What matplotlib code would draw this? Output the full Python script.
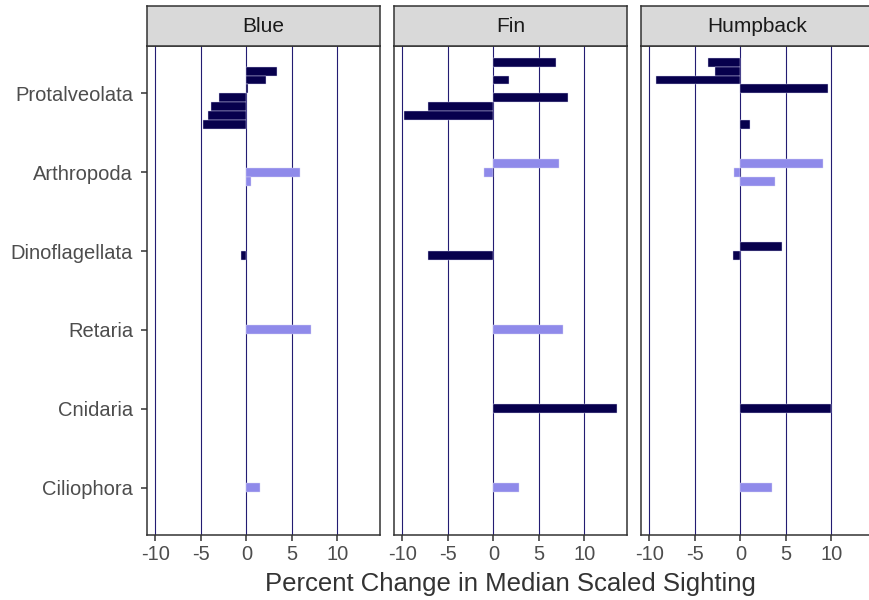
import numpy as np
import matplotlib
matplotlib.use("Agg")
import matplotlib.pyplot as plt

plt.rcParams['font.family'] = ['Liberation Sans', 'DejaVu Sans']

# categories top -> bottom, with number of dodge slots per category
categories = ['Protalveolata', 'Arthropoda', 'Dinoflagellata', 'Retaria', 'Cnidaria', 'Ciliophora']
n_slots = [8, 3, 2, 1, 1, 1]
cat_colors = ['#07004d', '#8f8aea', '#07004d', '#8f8aea', '#07004d', '#8f8aea']
facets = ['Blue', 'Fin', 'Humpback']

nan = np.nan
# values per facet, per category, slots listed top -> bottom
blue = [
    [nan, 3.4, 2.2, 0.15, -3.0, -3.9, -4.2, -4.8],
    [nan, 5.85, 0.55],
    [nan, -0.6],
    [7.1],
    [nan],
    [1.45],
]
fin = [
    [6.9, nan, 1.7, nan, 8.25, -7.15, -9.8, nan],
    [7.2, -1.0, nan],
    [nan, -7.2],
    [7.7],
    [13.55],
    [2.85],
]
humpback = [
    [-3.55, -2.75, -9.3, 9.65, nan, nan, nan, 1.1],
    [9.05, -0.65, 3.85],
    [4.55, -0.85],
    [nan],
    [9.95],
    [3.5],
]
values = {'Blue': blue, 'Fin': fin, 'Humpback': humpback}
xticks = [-10, -5, 0, 5, 10]

W, H = 869, 600
fig = plt.figure(figsize=(W / 100, H / 100), dpi=100)

panel_left = [147, 394, 641]
panel_w = 233
panel_top, panel_bot = 46, 535
strip_top = 6

bar_w = 0.9 / max(n_slots)
ncat = len(categories)
ypos = {c: ncat - i for i, c in enumerate(categories)}

for k, name in enumerate(facets):
    x0 = panel_left[k]
    ax = fig.add_axes([x0 / W, (H - panel_bot) / H, panel_w / W, (panel_bot - panel_top) / H])
    for i, cat in enumerate(categories):
        vals = values[name][i]
        n = len(vals)
        for j, v in enumerate(vals):
            if np.isnan(v):
                continue
            y = ypos[cat] + ((n - 1) / 2 - j) * bar_w
            ax.barh(y, v, height=bar_w, color=cat_colors[i],
                    edgecolor='#d8d6f4', linewidth=0.3, zorder=3)
    ax.set_xlim(-10.93, 14.7)
    ax.set_ylim(0.4, ncat + 0.6)
    ax.set_xticks(xticks)
    ax.set_xticklabels([str(t) for t in xticks])
    ax.set_yticks([ypos[c] for c in categories])
    if k == 0:
        ax.set_yticklabels(categories)
    else:
        ax.tick_params(axis='y', left=False, labelleft=False)
    ax.grid(axis='x', color='#231c72', linewidth=0.8, zorder=0)
    ax.grid(axis='y', visible=False)
    ax.set_axisbelow(True)
    ax.tick_params(axis='both', length=4, width=1.1, color='#333333',
                   labelcolor='#4d4d4d', labelsize=14.5)
    ax.tick_params(axis='y', pad=6)
    ax.tick_params(axis='x', pad=3)
    for s in ax.spines.values():
        s.set_color('#333333')
        s.set_linewidth(1.1)

    sax = fig.add_axes([x0 / W, (H - panel_top) / H, panel_w / W, (panel_top - strip_top) / H])
    sax.set_facecolor('#d9d9d9')
    sax.set_xticks([])
    sax.set_yticks([])
    for s in sax.spines.values():
        s.set_color('#333333')
        s.set_linewidth(1.1)
    sax.text(0.5, 0.5, name, ha='center', va='center', fontsize=15,
             color='#1a1a1a', transform=sax.transAxes)

fig.text(510 / W, 1 - 584 / H, 'Percent Change in Median Scaled Sighting',
         ha='center', va='center', fontsize=18.5, color='#333333')

fig.savefig('out.png', dpi=100)
